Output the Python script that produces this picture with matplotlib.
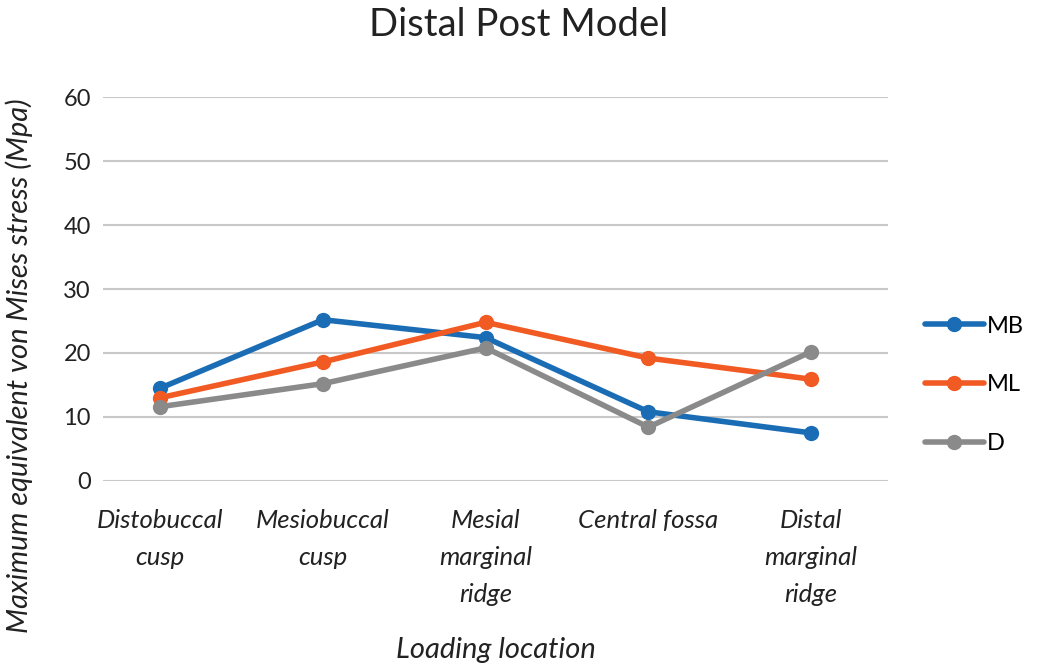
import matplotlib.pyplot as plt

categories = ["Distobuccal\ncusp", "Mesiobuccal\ncusp", "Mesial\nmarginal\nridge",
              "Central fossa", "Distal\nmarginal\nridge"]
mb = [14.5, 25.2, 22.4, 10.8, 7.5]
ml = [13.0, 18.6, 24.8, 19.2, 15.9]
d = [11.6, 15.2, 20.8, 8.4, 20.2]
y_ticks = [0, 10, 20, 30, 40, 50, 60]

plt.rcParams['font.family'] = ['Lato', 'DejaVu Sans']

fig = plt.figure(figsize=(10.43, 6.66), dpi=100)
ax = fig.add_axes([0.099, 0.278, 0.752, 0.576])

x = range(len(categories))
series = [("MB", mb, "#1a6db5"), ("ML", ml, "#f15a22"), ("D", d, "#8a8a8a")]
for name, vals, col in series:
    ax.plot(x, vals, "-o", color=col, lw=4, ms=10, label=name,
            solid_capstyle="round")

ax.set_ylim(0, 60)
ax.set_xlim(-0.35, 4.47)
ax.set_yticks(y_ticks)
ax.yaxis.grid(True, color="#c8c8c8", lw=1.5)
ax.set_axisbelow(True)
for s in ax.spines.values():
    s.set_visible(False)
ax.tick_params(length=0, labelsize=17, colors="#222222")
ax.tick_params(axis="y", pad=9)
ax.set_xticks(list(x))
ax.set_xticklabels(categories, style="italic", fontsize=18.5, linespacing=1.75)
ax.tick_params(axis="x", pad=20)

ax.set_xlabel("Loading location", style="italic", fontsize=21, labelpad=22,
              color="#222222")
ax.set_ylabel("Maximum equivalent von Mises stress (Mpa)", style="italic",
              fontsize=21, color="#222222")
ax.yaxis.set_label_coords(-0.09, 0.3)

fig.suptitle("Distal Post Model", fontsize=27.5, y=0.99, x=0.497, color="#222222")

ax.legend(loc="center left", bbox_to_anchor=(1.02, 0.25), frameon=False,
          fontsize=17, labelspacing=1.6, handlelength=2.5, handletextpad=0.15)

fig.savefig("out.png", dpi=100)
